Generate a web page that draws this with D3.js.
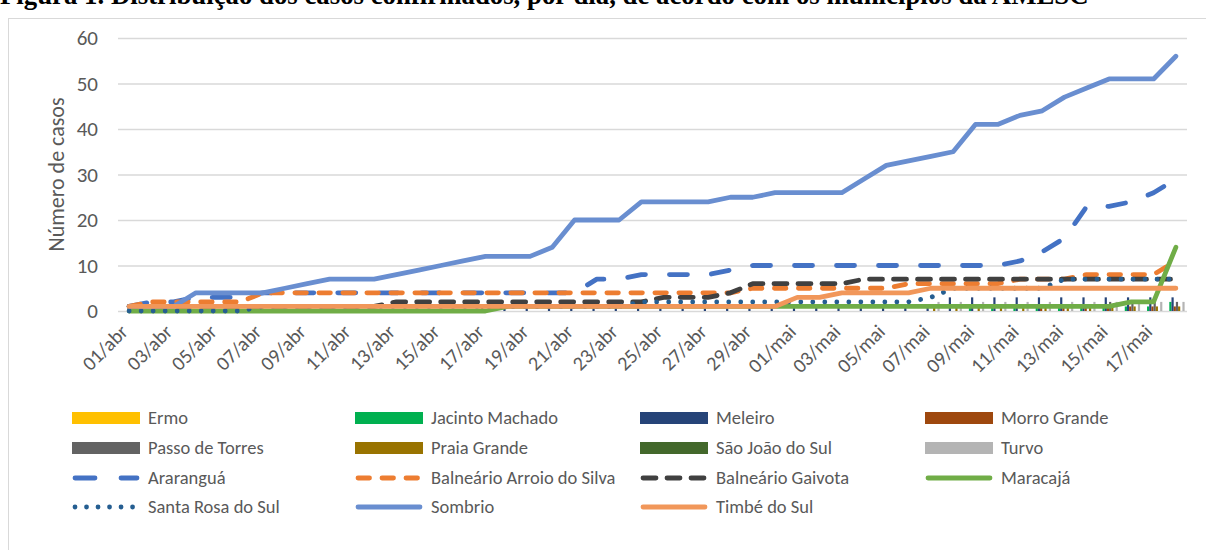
<!DOCTYPE html>
<html><head><meta charset="utf-8">
<script src="https://cdn.jsdelivr.net/npm/d3@7"></script>
<style>body{margin:0;background:#fff;overflow:hidden} svg{display:block}</style>
</head><body><svg id="c" width="1206" height="550"></svg>
<script>
const dates = ["01/abr","02/abr","03/abr","04/abr","05/abr","06/abr","07/abr","08/abr","09/abr","10/abr",
"11/abr","12/abr","13/abr","14/abr","15/abr","16/abr","17/abr","18/abr","19/abr","20/abr",
"21/abr","22/abr","23/abr","24/abr","25/abr","26/abr","27/abr","28/abr","29/abr","30/abr",
"01/mai","02/mai","03/mai","04/mai","05/mai","06/mai","07/mai","08/mai","09/mai","10/mai",
"11/mai","12/mai","13/mai","14/mai","15/mai","16/mai","17/mai","18/mai"];
const yTicks = [0,10,20,30,40,50,60];

// bar series
const ermo     = [0,0,0,0,0,0,0,0,0,0,0,0,0,0,0,0,0,0,0,0,0,0,0,0,0,0,0,0,0,0,0,0,0,0,0,0,0,0,0,0,0,0,0,0,0,0,0,0];
const jacinto  = [0,0,0,0,0,0,0,0,0,0,0,0,0,0,0,0,0,0,0,0,0,0,0,0,0,0,0,0,0,0,0,0,0,0,0,0,0,0,1,1,1,1,1,1,1,1,1,2];
const meleiro  = [0,0,0,0,0,0,0,0,0,0,0,0,0,0,0,0,1,1,1,1,1,1,1,1,1,1,1,1,1,1,1,1,1,1,1,1,1,3,3,3,3,3,3,3,3,3,3,3];
const morro    = [0,0,0,0,0,0,0,0,0,0,0,0,0,0,0,0,0,0,0,0,0,0,0,0,0,0,0,0,0,0,0,0,0,0,0,0,0,0,0,0,0,1,1,1,1,1,1,1];
const passo    = [0,0,0,0,0,0,0,0,0,0,0,0,0,0,0,0,0,0,0,0,0,0,0,0,0,0,0,0,0,0,0,0,0,0,0,0,0,0,0,0,0,0,0,0,2,2,2,2];
const praia    = [0,0,0,0,0,0,0,0,0,0,0,0,0,0,0,0,0,0,0,0,0,0,0,0,0,0,0,0,0,0,0,0,0,0,0,0,1,1,1,1,1,1,1,1,1,1,1,1];
const saojoao  = [0,0,0,0,0,0,0,0,0,0,0,0,0,0,0,0,0,0,0,0,0,0,0,0,0,0,0,0,0,0,0,0,0,0,0,0,0,0,0,0,0,0,0,0,0,0,0,0];
const turvo    = [0,0,0,0,0,0,0,0,0,0,0,0,0,0,0,0,0,0,0,0,0,0,0,0,0,0,0,0,0,0,0,0,0,0,0,0,2,2,2,2,2,2,2,2,2,2,2,2];

// line series
const ararangua = [1,2,2,3,3,3,4,4,4,4,4,4,4,4,4,4,4,4,4,4,4,7,7,8,8,8,8,9,10,10,10,10,10,10,10,10,10,10,10,10,11,13,16,23,23,24,26,29];
const arroio    = [1,2,2,2,2,2,4,4,4,4,4,4,4,4,4,4,4,4,4,4,4,4,4,4,4,4,4,4,5,5,5,5,5,5,5,6,6,6,6,6,7,7,7,8,8,8,8,11];
const gaivota   = [1,1,1,1,1,1,1,1,1,1,1,1,2,2,2,2,2,2,2,2,2,2,2,2,3,3,3,4,6,6,6,6,6,7,7,7,7,7,7,7,7,7,7,7,7,7,7,7];
const maracaja  = [0,0,0,0,0,0,0,0,0,0,0,0,0,0,0,0,0,1,1,1,1,1,1,1,1,1,1,1,1,1,1,1,1,1,1,1,1,1,1,1,1,1,1,1,1,2,2,14];
const santaRosa = [0,0,0,0,0,0,1,1,1,1,1,1,1,1,1,1,1,1,1,1,1,1,1,2,2,2,2,2,2,2,2,2,2,2,2,2,3,5,5,5,5,5,7,7,7,7,7,7];
const sombrio   = [1,1,1,4,4,4,4,5,6,7,7,7,8,9,10,11,12,12,12,14,20,20,20,24,24,24,24,25,25,26,26,26,26,29,32,33,34,35,41,41,43,44,47,49,51,51,51,56];
const timbe     = [1,1,1,1,1,1,1,1,1,1,1,1,1,1,1,1,1,1,1,1,1,1,1,1,1,1,1,1,1,1,3,3,4,4,4,4,5,5,5,5,5,5,5,5,5,5,5,5];

const barSeries = [
  {name:"Ermo", values:ermo, color:"#FFC000"},
  {name:"Jacinto Machado", values:jacinto, color:"#00B050"},
  {name:"Meleiro", values:meleiro, color:"#264478"},
  {name:"Morro Grande", values:morro, color:"#9E480E"},
  {name:"Passo de Torres", values:passo, color:"#636363"},
  {name:"Praia Grande", values:praia, color:"#997300"},
  {name:"São João do Sul", values:saojoao, color:"#43682B"},
  {name:"Turvo", values:turvo, color:"#B4B4B4"}
];
const lineSeries = [
  {name:"Araranguá", values:ararangua, color:"#4472C4", dash:"18,24"},
  {name:"Balneário Arroio do Silva", values:arroio, color:"#ED7D31", dash:"11.5,12.5"},
  {name:"Balneário Gaivota", values:gaivota, color:"#404040", dash:"13,11"},
  {name:"Maracajá", values:maracaja, color:"#70AD47", dash:null},
  {name:"Santa Rosa do Sul", values:santaRosa, color:"#255E91", dash:"0.01,12"},
  {name:"Sombrio", values:sombrio, color:"#698ED0", dash:null},
  {name:"Timbé do Sul", values:timbe, color:"#F1975A", dash:null}
];

const svg = d3.select("#c");
const font = "Calibri, Carlito, Lato, 'Open Sans', sans-serif";
const L = 118, R = 1187, T = 38, B = 311;

// title (cut at the top as in the source page)
svg.append("text").attr("x", 0).attr("y", 4)
  .attr("font-family","'Liberation Serif','Times New Roman',serif").attr("font-weight","bold")
  .attr("font-size", 26.8).attr("fill","#000")
  .text("Figura 1. Distribuição dos casos confirmados, por dia, de acordo com os municípios da AMESC");

// chart border
svg.append("rect").attr("x", 8.5).attr("y", 18.5).attr("width", 1250).attr("height", 600)
  .attr("fill","none").attr("stroke","#D9D9D9").attr("stroke-width",1);

const x = d3.scaleBand().domain(dates).range([L, R]).padding(0);
const y = d3.scaleLinear().domain([0, 60]).range([B, T]);

// grid + y ticks
const yAxis = d3.axisLeft(y).tickValues(yTicks).tickSize(-(R-L)).tickPadding(20);
const gy = svg.append("g").attr("transform", `translate(${L},0)`).call(yAxis);
gy.select(".domain").remove();
gy.selectAll(".tick line").attr("stroke","#D9D9D9").attr("stroke-width",1.3);
gy.selectAll(".tick text").attr("font-family", font).attr("font-size", 21).attr("fill","#595959");

// y label
svg.append("text").attr("transform", `translate(64,${(T+B)/2}) rotate(-90)`)
  .attr("text-anchor","middle").attr("font-family", font).attr("font-size", 22).attr("fill","#595959")
  .text("Número de casos");

// bars
const bw = x.bandwidth();
const clusterW = bw * 8 / (8 + 2.19);
const x1 = d3.scaleBand().domain(barSeries.map(d=>d.name)).range([(bw-clusterW)/2, (bw+clusterW)/2]).padding(0);
barSeries.forEach(s => {
  svg.append("g").selectAll("rect").data(s.values.map((v,i)=>({v, d:dates[i]})).filter(d=>d.v>0))
    .join("rect")
    .attr("x", d => x(d.d) + x1(s.name))
    .attr("width", x1.bandwidth())
    .attr("y", d => y(d.v))
    .attr("height", d => y(0) - y(d.v))
    .attr("fill", s.color);
});

// x axis labels
const xAxis = d3.axisBottom(x).tickValues(dates.filter((d,i)=>i%2===0)).tickSize(0).tickPadding(0);
const gx = svg.append("g").attr("transform", `translate(0,${B})`).call(xAxis);
gx.select(".domain").remove();
gx.selectAll(".tick text").attr("font-family", font).attr("font-size", 20).attr("fill","#595959")
  .attr("text-anchor","end").attr("dy", null).attr("y", 0)
  .attr("transform","translate(0,22) rotate(-45)");

// lines
const line = d3.line().x((d,i)=>x(dates[i]) + bw/2).y(d=>y(d));
lineSeries.forEach(s => {
  svg.append("path").datum(s.values).attr("d", line)
    .attr("fill","none").attr("stroke", s.color).attr("stroke-width", 4.8)
    .attr("stroke-linecap","round").attr("stroke-linejoin","round")
    .attr("stroke-dasharray", s.dash);
});

// legend
const cols = [72, 355, 640, 925];
const rows = [418, 448, 478, 507];
const legendItems = barSeries.map(s=>({...s, type:"bar"})).concat(lineSeries.map(s=>({...s, type:"line"})));
legendItems.forEach((s, k) => {
  const cx = cols[k % 4], cy = rows[Math.floor(k / 4)];
  const g = svg.append("g");
  if (s.type === "bar") {
    g.append("rect").attr("x", cx).attr("y", cy-6).attr("width", 68).attr("height", 12).attr("fill", s.color);
  } else {
    g.append("line").attr("x1", cx+3).attr("x2", cx+65).attr("y1", cy).attr("y2", cy)
      .attr("stroke", s.color).attr("stroke-width", 4.8).attr("stroke-linecap","round")
      .attr("stroke-dasharray", s.name==="Araranguá" ? "20,26" : s.name==="Santa Rosa do Sul" ? "0.01,11.5" : s.dash);
  }
  g.append("text").attr("x", cx+76).attr("y", cy).attr("dy","0.35em")
    .attr("font-family", font).attr("font-size", 18.5).attr("fill","#595959").text(s.name);
});
</script>
</body></html>
